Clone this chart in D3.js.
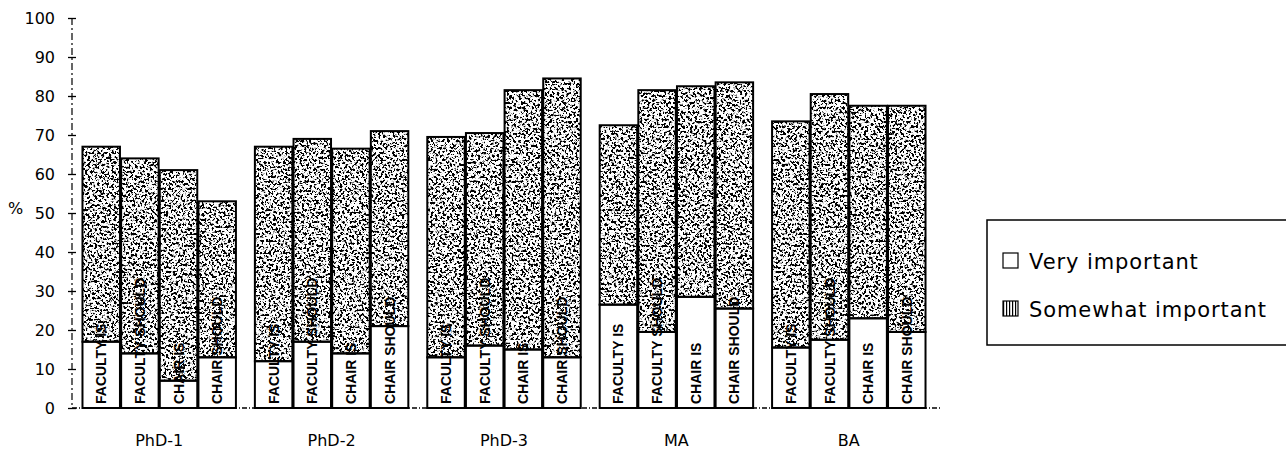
<!DOCTYPE html>
<html>
<head>
<meta charset="utf-8">
<script src="https://cdn.jsdelivr.net/npm/d3@7"></script>
<style>
  body { margin: 0; background: #fff; }
  svg { display: block; }
</style>
</head>
<body>
<div id="chart"></div>
<script>
// data (percent)
var groups = ["PhD-1", "PhD-2", "PhD-3", "MA", "BA"];
var roles = ["FACULTY IS", "FACULTY SHOULD", "CHAIR IS", "CHAIR SHOULD"];
var seriesNames = ["Very important", "Somewhat important"];
var veryImportant = [
  [17, 14, 7, 13],
  [12, 17, 14, 21],
  [13, 16, 15, 13],
  [26.5, 19.5, 28.5, 25.5],
  [15.5, 17.5, 23, 19.5]
];
var somewhatImportant = [
  [50, 50, 54, 40],
  [55, 52, 52.5, 50],
  [56.5, 54.5, 66.5, 71.5],
  [46, 62, 54, 58],
  [58, 63, 54.5, 58]
];
var yTicks = [0, 10, 20, 30, 40, 50, 60, 70, 80, 90, 100];

var width = 1286, height = 454;

var rows = [];
groups.forEach(function(g, gi) {
  roles.forEach(function(r, ri) {
    rows.push({group: g, role: r, very: veryImportant[gi][ri], somewhat: somewhatImportant[gi][ri]});
  });
});

var stack = d3.stack().keys(["very", "somewhat"]);
var layers = stack(rows);

var svg = d3.select("#chart").append("svg")
  .attr("width", width)
  .attr("height", height);

var defs = svg.append("defs");

// stippled grey texture like the scanned print
var f = defs.append("filter")
  .attr("id", "stipple")
  .attr("x", 0).attr("y", 0).attr("width", 1).attr("height", 1);
f.append("feTurbulence")
  .attr("type", "fractalNoise")
  .attr("baseFrequency", 0.42)
  .attr("numOctaves", 3)
  .attr("seed", 7)
  .attr("result", "noise");
f.append("feColorMatrix")
  .attr("in", "noise")
  .attr("type", "matrix")
  .attr("values", "0 0 0 0 0  0 0 0 0 0  0 0 0 0 0  -12 0 0 0 6.1")
  .attr("result", "dots");
f.append("feFlood").attr("flood-color", "#fff").attr("result", "bg");
var merge = f.append("feMerge");
merge.append("feMergeNode").attr("in", "bg");
merge.append("feMergeNode").attr("in", "dots");

var hatch = defs.append("pattern")
  .attr("id", "hatch")
  .attr("patternUnits", "userSpaceOnUse")
  .attr("width", 3).attr("height", 4);
hatch.append("rect").attr("width", 3).attr("height", 4).attr("fill", "#fff");
hatch.append("rect").attr("width", 1.2).attr("height", 4).attr("fill", "#000");

var y = d3.scaleLinear().domain([0, 100]).range([408, 18]);

var x0 = d3.scaleBand()
  .domain(groups)
  .range([73, 935])
  .paddingInner(0.11)
  .paddingOuter(0.055);

var x1 = d3.scaleBand()
  .domain(roles)
  .range([0, x0.bandwidth()])
  .paddingInner(0.03);

// y axis
svg.append("line")
  .attr("x1", 72).attr("x2", 72)
  .attr("y1", y(100)).attr("y2", y(0))
  .attr("stroke", "#000")
  .attr("stroke-width", 1.2)
  .attr("stroke-dasharray", "7,3,2,3");

var yAxis = svg.append("g")
  .attr("transform", "translate(72,0)")
  .call(d3.axisLeft(y).tickValues(yTicks).tickSize(4).tickPadding(13));
yAxis.select(".domain").remove();
yAxis.selectAll(".tick line")
  .attr("x1", -4).attr("x2", 4)
  .attr("stroke-width", 1.3);
yAxis.selectAll(".tick text")
  .attr("font-family", "DejaVu Sans, sans-serif")
  .attr("font-size", 16)
  .attr("fill", "#000");

svg.append("text")
  .attr("x", 8)
  .attr("y", 214)
  .attr("font-family", "DejaVu Sans, sans-serif")
  .attr("font-size", 16)
  .text("%");

// x axis
svg.append("line")
  .attr("x1", 72).attr("x2", 942)
  .attr("y1", y(0)).attr("y2", y(0))
  .attr("stroke", "#000")
  .attr("stroke-width", 1.3)
  .attr("stroke-dasharray", "5,2,1,2");

var xAxis = svg.append("g")
  .attr("transform", "translate(0," + y(0) + ")")
  .call(d3.axisBottom(x0).tickSize(0).tickPadding(27));
xAxis.select(".domain").remove();
xAxis.selectAll(".tick text")
  .attr("font-family", "DejaVu Sans, sans-serif")
  .attr("font-size", 16)
  .attr("fill", "#000");

// bars
var barX = function(d) { return x0(d.data.group) + x1(d.data.role); };

svg.append("g").selectAll("rect")
  .data(layers[1])
  .enter()
  .append("rect")
  .attr("x", barX)
  .attr("y", function(d) { return y(d[1]); })
  .attr("width", x1.bandwidth())
  .attr("height", function(d) { return y(d[0]) - y(d[1]); })
  .attr("fill", "#888")
  .attr("filter", "url(#stipple)");

layers.forEach(function(layer) {
  svg.append("g").selectAll("rect")
    .data(layer)
    .enter()
    .append("rect")
    .attr("x", barX)
    .attr("y", function(d) { return y(d[1]); })
    .attr("width", x1.bandwidth())
    .attr("height", function(d) { return y(d[0]) - y(d[1]); })
    .attr("fill", "none")
    .attr("stroke", "#000")
    .attr("stroke-width", 2);
});

// rotated role labels inside bars
svg.append("g").selectAll("text")
  .data(rows)
  .enter()
  .append("text")
  .attr("transform", function(d) {
    return "translate(" + (x0(d.group) + x1(d.role) + x1.bandwidth() / 2) + "," + (y(0) - 4) + ") rotate(-90)";
  })
  .attr("dy", "0.36em")
  .attr("font-family", "Liberation Sans Narrow, Liberation Sans, sans-serif")
  .attr("font-weight", "bold")
  .attr("font-size", 14)
  .attr("fill", "#000")
  .text(function(d) { return d.role; });

// legend
var legend = svg.append("g");
legend.append("rect")
  .attr("x", 987).attr("y", 220)
  .attr("width", 320).attr("height", 125)
  .attr("fill", "none")
  .attr("stroke", "#000")
  .attr("stroke-width", 1.5);

var item = legend.selectAll(".item")
  .data(seriesNames)
  .enter()
  .append("g")
  .attr("transform", function(d, i) { return "translate(1003," + (253 + i * 48) + ")"; });

item.append("rect")
  .attr("width", 15).attr("height", 15)
  .attr("fill", function(d, i) { return i === 0 ? "#fff" : "url(#hatch)"; })
  .attr("stroke", "#000")
  .attr("stroke-width", 1.2);

item.append("text")
  .attr("x", 26)
  .attr("y", 16)
  .attr("font-family", "DejaVu Sans, sans-serif")
  .attr("font-size", 21)
  .attr("letter-spacing", 0.9)
  .text(function(d) { return d; });
</script>
</body>
</html>
